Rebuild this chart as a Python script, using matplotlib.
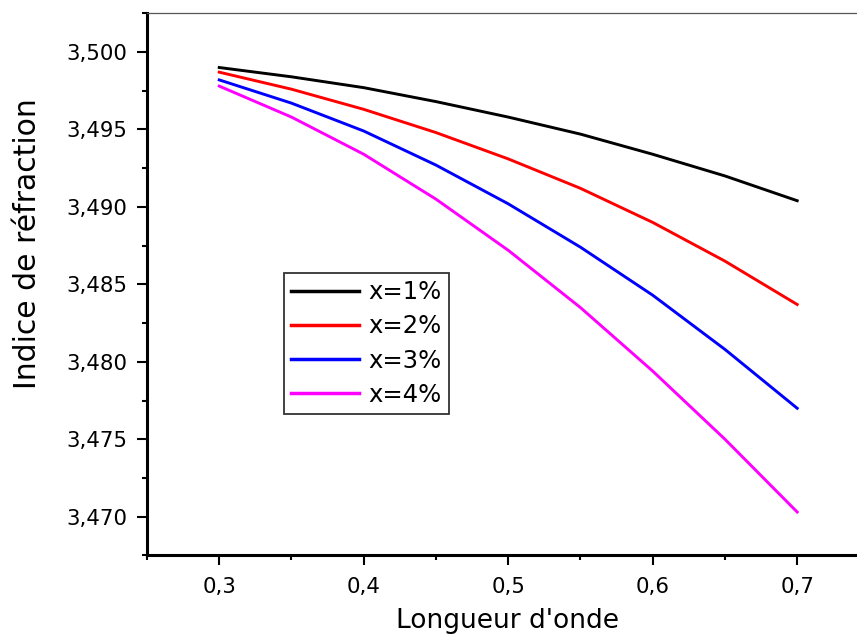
import numpy as np
import matplotlib
matplotlib.use("Agg")
import matplotlib.pyplot as plt
from matplotlib.ticker import MultipleLocator

plt.rcParams['font.family'] = ['DejaVu Sans']

# wavelength (x) and refractive index for each composition
wavelength = [0.30, 0.35, 0.40, 0.45, 0.50, 0.55, 0.60, 0.65, 0.70]
n_x1 = [3.4990, 3.4984, 3.4977, 3.4968, 3.4958, 3.4947, 3.4934, 3.4920, 3.4904]
n_x2 = [3.4987, 3.4976, 3.4963, 3.4948, 3.4931, 3.4912, 3.4890, 3.4865, 3.4837]
n_x3 = [3.4982, 3.4967, 3.4949, 3.4927, 3.4902, 3.4874, 3.4843, 3.4808, 3.4770]
n_x4 = [3.4978, 3.4958, 3.4934, 3.4905, 3.4872, 3.4835, 3.4794, 3.4750, 3.4703]

labels = ['x=1%', 'x=2%', 'x=3%', 'x=4%']
colors = ['black', '#ff0000', '#0000ff', '#ff00ff']

xticks = [0.3, 0.4, 0.5, 0.6, 0.7]
xticklabels = ['0,3', '0,4', '0,5', '0,6', '0,7']
yticks = [3.470, 3.475, 3.480, 3.485, 3.490, 3.495, 3.500]
yticklabels = ['3,470', '3,475', '3,480', '3,485', '3,490', '3,495', '3,500']

fig = plt.figure(figsize=(8.57, 6.4), dpi=100)
ax = fig.add_axes([147 / 857, 0.1322, 1 - 147 / 857, 0.9792 - 0.1322])

for y, lab, c in zip([n_x1, n_x2, n_x3, n_x4], labels, colors):
    ax.plot(wavelength, y, color=c, lw=2.1, label=lab)

ax.set_xlim(0.25, 0.7414)
ax.set_ylim(3.4675, 3.5025)
ax.set_xticks(xticks)
ax.set_xticklabels(xticklabels)
ax.set_yticks(yticks)
ax.set_yticklabels(yticklabels)
ax.xaxis.set_minor_locator(MultipleLocator(0.05))
ax.yaxis.set_minor_locator(MultipleLocator(0.0025))

ax.tick_params(which='major', direction='out', length=7.5, width=1.5,
               labelsize=15.3, pad=6.5)
ax.tick_params(which='minor', direction='out', length=3.5, width=1.5)
ax.tick_params(axis='x', which='major', pad=8)
ax.tick_params(top=False, right=False, which='both')

ax.spines['left'].set_linewidth(2.2)
ax.spines['bottom'].set_linewidth(2.2)
ax.spines['top'].set_linewidth(0.9)
ax.spines['top'].set_color('#555555')
ax.spines['right'].set_visible(False)

ax.set_xlabel("Longueur d'onde", fontsize=19)
ax.set_ylabel("Indice de réfraction", fontsize=21.5)
ax.xaxis.set_label_coords(0.508, -0.097)
ax.yaxis.set_label_coords(-0.148, 0.576)

leg = ax.legend(loc='upper left', bbox_to_anchor=(0.193, 0.521),
                borderaxespad=0, fontsize=17.5, frameon=True, fancybox=False,
                edgecolor='black', handlelength=2.8, handletextpad=0.37,
                labelspacing=0.42, borderpad=0.3)
leg.get_frame().set_linewidth(1.3)
for h in leg.get_lines():
    h.set_linewidth(2.5)

fig.savefig('out.png', dpi=100)
